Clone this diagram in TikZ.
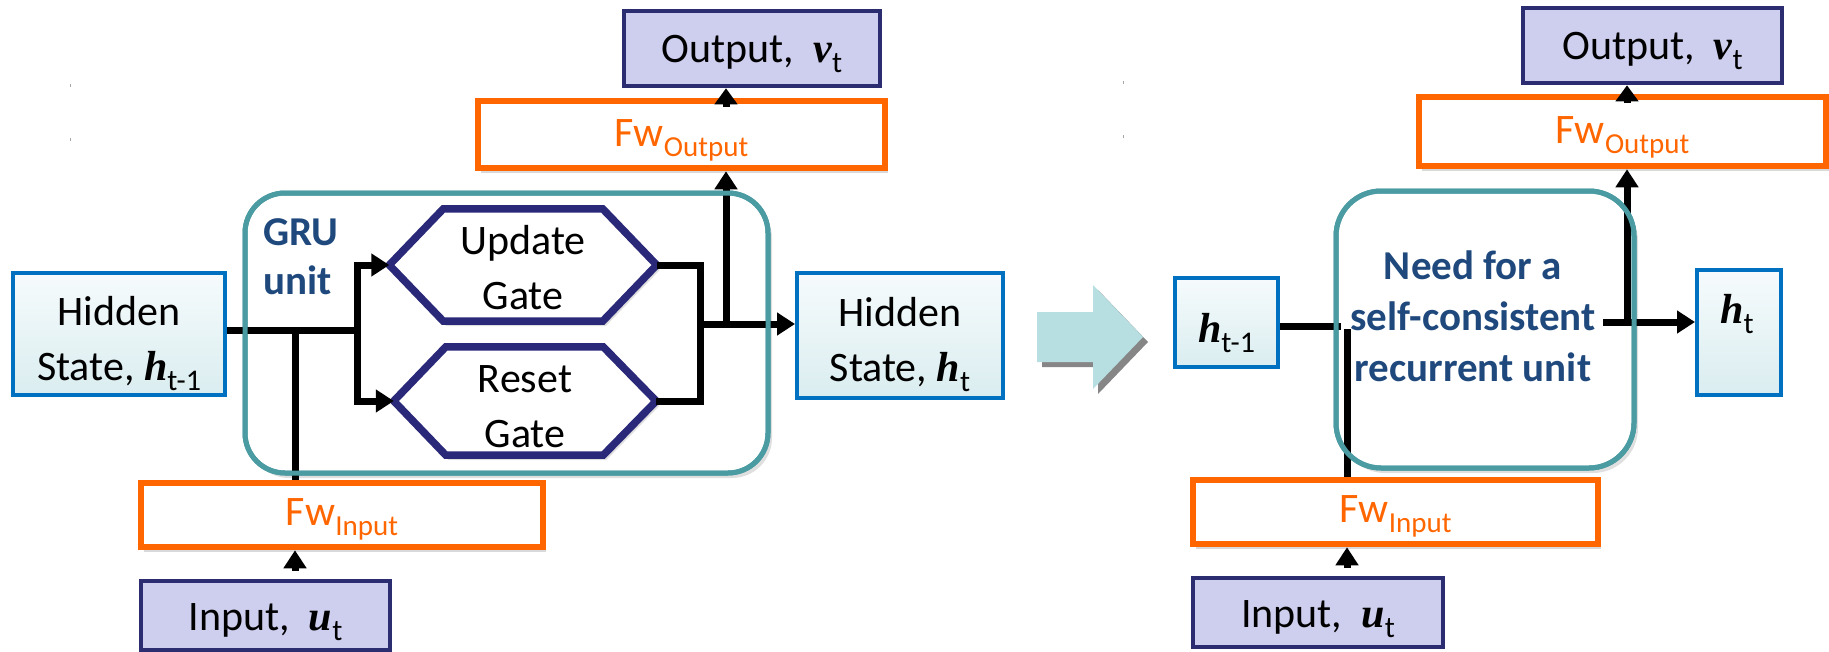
\documentclass[tikz,border=0pt]{standalone}
\usepackage{fontspec}
\setmainfont{Carlito}
\newfontfamily\tms{Liberation Serif}
\usetikzlibrary{arrows.meta,shadows,calc}
\definecolor{lav}{RGB}{206,206,238}
\definecolor{navyb}{RGB}{44,44,112}
\definecolor{hexnavy}{RGB}{42,40,120}
\definecolor{orng}{RGB}{255,102,0}
\definecolor{tealc}{RGB}{75,155,162}
\definecolor{hblue}{RGB}{0,112,192}
\definecolor{htop}{RGB}{246,251,252}
\definecolor{hbot}{RGB}{218,237,240}
\definecolor{txtblue}{RGB}{31,73,125}
\definecolor{bigarr}{RGB}{183,222,225}
\newcommand\myfs{\fontsize{42}{55}\selectfont}
\newcommand\bvar[1]{{\tms\bfseries\itshape #1}}
\newcommand\sbt[1]{\raisebox{-10pt}[0pt][0pt]{\fontsize{30}{30}\selectfont #1}}
\newcommand\sbf[1]{\raisebox{-10pt}[0pt][0pt]{\fontsize{29}{29}\selectfont #1}}
\newcommand\dn[2]{\raisebox{-#1}[\height][\depth]{#2}}
\tikzset{
  iobox/.style={draw=navyb, fill=lav, line width=4.5pt, inner sep=0pt, font=\myfs, align=center},
  fwbox/.style={draw=orng, fill=white, line width=6.5pt, inner sep=0pt, text=orng, font=\myfs,
     drop shadow={opacity=0.3, shadow xshift=3pt, shadow yshift=-5pt}},
  hidbox/.style={draw=hblue, line width=4pt, top color=htop, bottom color=hbot, inner sep=0pt, font=\myfs, align=center},
  plaintxt/.style={inner sep=0pt, font=\myfs, align=center},
  tealbox/.style={draw=tealc, line width=5pt, fill=white, rounded corners=40pt, inner sep=0pt,
     drop shadow={opacity=0.25, shadow xshift=4pt, shadow yshift=-5pt}},
  tealline/.style={draw=tealc, line width=5pt, rounded corners=40pt, inner sep=0pt},
  hexlbl/.style={inner sep=0pt, font=\myfs, align=center},
  hexline/.style={draw=hexnavy, line width=7.5pt, line join=miter, fill=white,
     drop shadow={opacity=0.25, shadow xshift=3pt, shadow yshift=-5pt}},
  wire/.style={line width=7pt, draw=black, line join=miter},
  arr/.style={wire, -{Triangle[length=18pt,width=22pt]}},
  arrs/.style={wire, -{Triangle[length=16pt,width=22pt]}},
  bluetxt/.style={inner sep=0pt, text=txtblue, font=\fontsize{41}{51}\selectfont\bfseries}
}
\begin{document}
\begin{tikzpicture}[x=1pt,y=-1pt]
\useasboundingbox (0,0) rectangle (1829,651);
% tiny specks
\fill[gray!70] (69.5,84) rectangle (71,87);
\fill[gray!70] (69.5,138) rectangle (71,141);
\fill[gray!70] (1122.5,81) rectangle (1124,84);
\fill[gray!70] (1122.5,135) rectangle (1124,138);

% ================= LEFT =================
\node[tealbox, minimum width=523pt, minimum height=280pt] (gru) at (506.5,333) {};
\node[iobox, minimum width=256pt, minimum height=75pt] (out1) at (752,48.5) {\dn{4pt}{Output,~~\bvar{v}\sbt{t}}};
\node[fwbox, minimum width=407pt, minimum height=67pt] (fwo1) at (681.5,134.5) {\dn{-1pt}{Fw\sbf{Output}}};
\node[hidbox, minimum width=212pt, minimum height=122pt] (hid1) at (119,334) {};
\node[plaintxt] (hid1t) at (119,341) {Hidden\\State, \bvar{h}\sbt{t-1}};
\node[hidbox, minimum width=206pt, minimum height=125pt] (hid2) at (900,335.5) {};
\node[plaintxt] (hid2t) at (900,342) {Hidden\\State, \bvar{h}\sbt{t}};
\node[fwbox, minimum width=402pt, minimum height=64pt] (fwi1) at (342,515) {\dn{-3pt}{Fw\sbf{Input}}};
\node[iobox, minimum width=249pt, minimum height=69pt] (inp1) at (265.5,615.5) {\dn{5pt}{Input,~~\bvar{u}\sbt{t}}};

\node[hexlbl, minimum width=267pt, minimum height=112pt] (upd) at (523,265) {};
\draw[hexline] (upd.west) -- ($(upd.north west)+(54,0)$) -- ($(upd.north east)+(-54,0)$) -- (upd.east)
   -- ($(upd.south east)+(-54,0)$) -- ($(upd.south west)+(54,0)$) -- cycle;
\node[hexlbl] (updt) at (523,268) {Update\\Gate};
\node[hexlbl, minimum width=262pt, minimum height=108pt] (rst) at (525,401) {};
\draw[hexline] (rst.west) -- ($(rst.north west)+(52,0)$) -- ($(rst.north east)+(-53,0)$) -- (rst.east)
   -- ($(rst.south east)+(-53,0)$) -- ($(rst.south west)+(52,0)$) -- cycle;
\node[hexlbl] (rstt) at (525,407) {Reset\\Gate};

\node[bluetxt, align=left, anchor=north west, font=\fontsize{41}{49}\selectfont\bfseries] (grul) at (263,218) {GRU\\unit};

\coordinate (ja) at (357,330);
\coordinate (jin) at (295,331);
\coordinate (jb) at (700,324);
\coordinate (jc) at (726,324);
\draw[wire] (hid1.east |- ja) -- (ja);
\draw[arr] (ja) |- (upd.west);
\draw[arr] (ja) |- (rst.west);
\draw[wire] (jin |- fwi1.north) -- (jin);
\draw[arr] ([yshift=8pt]jin |- inp1.north) -- (jin |- fwi1.south);
\draw[wire] (upd.east) -- (upd.east -| jb) -- (rst.east -| jb) -- (rst.east);
\draw[arr] (jb) -- (jb -| hid2.west);
\draw[arr] (jc) -- (jc |- fwo1.south);
\draw[arrs] ([yshift=-9pt]fwo1.north -| jc) -- (jc |- out1.south);
\node[tealline, minimum width=523pt, minimum height=280pt] (gruB) at (506.5,333) {};

% ================= RIGHT =================
\fill[gray!95] [shift={(5,5)}] (1037,312) -- (1093,312) -- (1093,285) -- (1143,337) -- (1093,389) -- (1093,362) -- (1037,362) -- cycle;
\fill[bigarr] (1037,312) -- (1093,312) -- (1093,285) -- (1143,337) -- (1093,389) -- (1093,362) -- (1037,362) -- cycle;

\node[tealbox, rounded corners=45pt, minimum width=298pt, minimum height=277pt] (unit2) at (1485,329.5) {};
\node[iobox, minimum width=259pt, minimum height=75pt] (out2) at (1652.5,45.5) {\dn{4pt}{Output,~~\bvar{v}\sbt{t}}};
\node[fwbox, minimum width=407pt, minimum height=69pt] (fwo2) at (1622.5,131.5) {\dn{-1pt}{Fw\sbf{Output}}};
\node[hidbox, minimum width=103pt, minimum height=89pt] (hprev) at (1226.5,322.5) {\dn{5pt}{\bvar{h}\sbt{t-1}}};
\node[hidbox, minimum width=84pt, minimum height=125pt] (ht) at (1739,332.5) {};
\node[inner sep=0pt, anchor=base, font=\myfs] (htt) at (1737,323) {\bvar{h}\sbt{t}};
\node[fwbox, minimum width=405pt, minimum height=64pt] (fwi2) at (1395.5,512) {\dn{-3pt}{Fw\sbf{Input}}};
\node[iobox, minimum width=250pt, minimum height=69pt] (inp2) at (1318,612.5) {\dn{5pt}{Input,~~\bvar{u}\sbt{t}}};
\node[bluetxt, align=center] (need) at (1473,316) {Need for a\\self-consistent\\recurrent unit};

\coordinate (jd) at (1341,326);
\coordinate (je) at (1347,329);
\coordinate (jf) at (1603,322);
\coordinate (jg) at (1627,322);
\draw[wire] (hprev.east |- jd) -- (jd);
\draw[wire] (je) -- (je |- fwi2.north);
\draw[arr] ([yshift=8pt]je |- inp2.north) -- (je |- fwi2.south);
\draw[arr] (jf) -- (jf -| ht.west);
\draw[arr] (jg) -- (jg |- fwo2.south);
\draw[arrs] ([yshift=-9pt]fwo2.north -| jg) -- (jg |- out2.south);
\node[tealline, rounded corners=45pt, minimum width=298pt, minimum height=277pt] (unit2B) at (1485,329.5) {};
\end{tikzpicture}
\end{document}
